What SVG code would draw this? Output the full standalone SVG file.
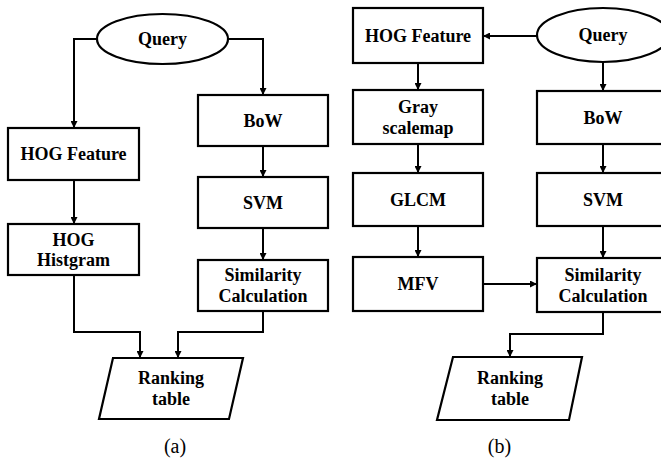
<svg xmlns="http://www.w3.org/2000/svg" width="661" height="461" viewBox="0 0 661 461">
<style>
.box{fill:#fff;stroke:#000;stroke-width:2.2}
.t{font-family:'Liberation Serif',serif;font-weight:700;font-size:18px;text-anchor:middle;fill:#000}
.lab{font-family:'Liberation Serif',serif;font-size:20px;text-anchor:middle;fill:#000}
.c{fill:none;stroke:#000;stroke-width:2;marker-end:url(#ah)}
</style>
<defs>
<marker id="ah" markerWidth="7" markerHeight="7" refX="6" refY="3.5" orient="auto" markerUnits="userSpaceOnUse">
<path d="M0,0 L7,3.5 L0,7 Z" fill="#000"/>
</marker>
</defs>
<rect width="661" height="461" fill="#fff"/>
<g id="connectors">
<path class="c" d="M97,39 H74 V127"/>
<path class="c" d="M228,39 H263 V94"/>
<path class="c" d="M74,180 V223"/>
<path class="c" d="M263,146 V176"/>
<path class="c" d="M263,228 V259"/>
<path class="c" d="M74,275 V332 H140 V357"/>
<path class="c" d="M263,311 V332 H178 V357"/>
<path class="c" d="M537,36 H484"/>
<path class="c" d="M603,62 V90"/>
<path class="c" d="M418,63 V89"/>
<path class="c" d="M418,144 V172"/>
<path class="c" d="M603,144 V172"/>
<path class="c" d="M418,226 V256"/>
<path class="c" d="M603,226 V257"/>
<path class="c" d="M483,284 H536"/>
<path class="c" d="M603,312 V334 H510 V356"/>
</g>
<g id="a-query"><ellipse class="box" cx="162.5" cy="39" rx="65.5" ry="25"/><text class="t" x="162.5" y="45">Query</text></g>
<g id="a-hogfeature"><rect class="box" x="8" y="128" width="131" height="52"/><text class="t" x="73.5" y="160">HOG Feature</text></g>
<g id="a-hoghist"><rect class="box" x="8" y="224" width="131" height="51"/><text class="t" x="73.5" y="245.5">HOG</text><text class="t" x="73.5" y="266">Histgram</text></g>
<g id="a-bow"><rect class="box" x="198" y="95" width="130" height="51"/><text class="t" x="263" y="126.5">BoW</text></g>
<g id="a-svm"><rect class="box" x="198" y="177" width="130" height="51"/><text class="t" x="263" y="208.5">SVM</text></g>
<g id="a-sim"><rect class="box" x="198" y="260" width="130" height="51"/><text class="t" x="263" y="281">Similarity</text><text class="t" x="263" y="302">Calculation</text></g>
<g id="a-rank"><polygon class="box" points="113,358 243,358 229,419 99,419"/><text class="t" x="171" y="384">Ranking</text><text class="t" x="171" y="405">table</text></g>
<text class="lab" x="175" y="453">(a)</text>
<g id="b-hogfeature"><rect class="box" x="353" y="8" width="130" height="55"/><text class="t" x="418" y="42">HOG Feature</text></g>
<g id="b-query"><ellipse class="box" cx="603" cy="35" rx="66" ry="27"/><text class="t" x="603" y="41">Query</text></g>
<g id="b-gray"><rect class="box" x="353" y="90" width="130" height="54"/><text class="t" x="418" y="112.5">Gray</text><text class="t" x="418" y="133.5">scalemap</text></g>
<g id="b-bow"><rect class="box" x="537" y="91" width="130" height="53"/><text class="t" x="603" y="123.5">BoW</text></g>
<g id="b-glcm"><rect class="box" x="353" y="173" width="130" height="53"/><text class="t" x="418" y="205.5">GLCM</text></g>
<g id="b-svm"><rect class="box" x="537" y="173" width="130" height="53"/><text class="t" x="603" y="205.5">SVM</text></g>
<g id="b-mfv"><rect class="box" x="353" y="257" width="130" height="54"/><text class="t" x="418" y="290">MFV</text></g>
<g id="b-sim"><rect class="box" x="537" y="258" width="130" height="54"/><text class="t" x="603" y="280.5">Similarity</text><text class="t" x="603" y="301.5">Calculation</text></g>
<g id="b-rank"><polygon class="box" points="453,357 582,357 569,420 437,420"/><text class="t" x="510" y="384">Ranking</text><text class="t" x="510" y="405">table</text></g>
<text class="lab" x="499.5" y="453">(b)</text>
</svg>
